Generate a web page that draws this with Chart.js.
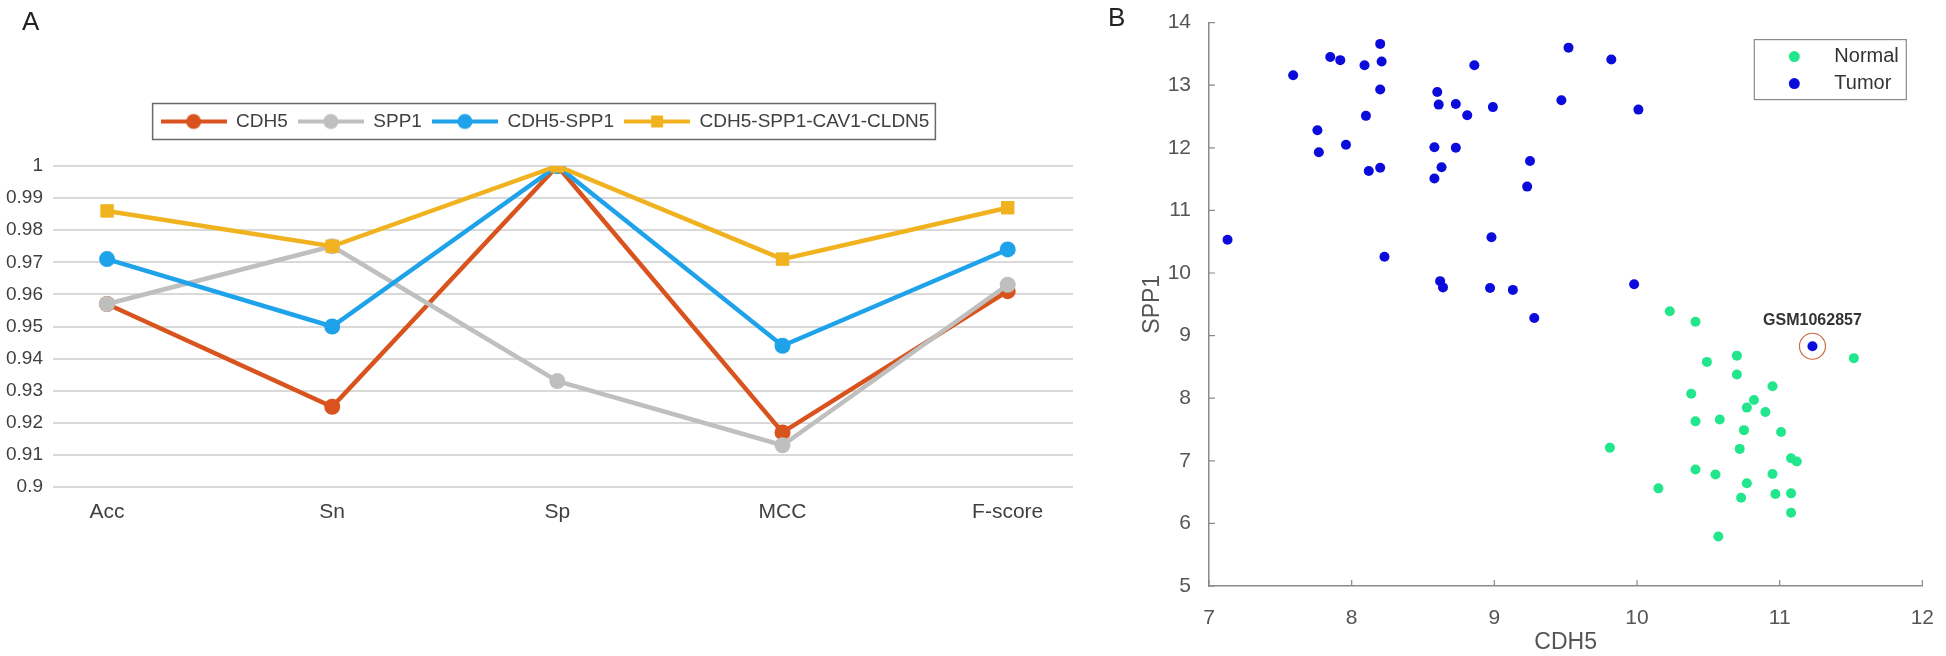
<!DOCTYPE html>
<html>
<head>
<meta charset="utf-8">
<script src="https://cdn.jsdelivr.net/npm/chart.js@4"></script>
<style>
  body { margin: 0; background: #fff; width: 1946px; height: 656px; position: relative; overflow: hidden; font-family: "Liberation Sans", Arial, sans-serif; }
  .panel { position: absolute; top: 0; height: 656px; }
  #left { left: 0; width: 1090px; }
  #right { left: 1090px; width: 856px; }
  .tag { position: absolute; font-size: 26px; color: #222; }
</style>
</head>
<body>
<div class="panel" id="left"><canvas id="lineChart"></canvas></div>
<div class="panel" id="right"><canvas id="scatterChart"></canvas></div>
<div class="tag" style="left:22px;top:6px;">A</div>
<div class="tag" style="left:1108px;top:2px;">B</div>
<script>
// panel A: classifier metrics
const metrics = ["Acc", "Sn", "Sp", "MCC", "F-score"];
const seriesNames = ["CDH5", "SPP1", "CDH5-SPP1", "CDH5-SPP1-CAV1-CLDN5"];
const cdh5Scores = [0.957, 0.925, 1.0, 0.917, 0.961];
const spp1Scores = [0.957, 0.975, 0.933, 0.913, 0.963];
const pairScores = [0.971, 0.950, 1.0, 0.944, 0.974];
const fourGeneScores = [0.986, 0.975, 1.0, 0.971, 0.987];
const yTicks = [0.9, 0.91, 0.92, 0.93, 0.94, 0.95, 0.96, 0.97, 0.98, 0.99, 1];

// panel B: expression of the two genes per sample
const normalCDH5 = [10.23, 10.41, 10.70, 10.49, 10.70, 11.52, 10.95, 10.38, 10.82, 10.77, 10.90, 10.41, 10.58, 10.75, 11.01, 9.81, 10.72, 11.08, 11.12, 10.41, 10.55, 10.95, 10.77, 10.15, 10.97, 11.08, 10.73, 11.08, 10.57];
const normalSPP1 = [9.39, 9.22, 8.68, 8.58, 8.38, 8.64, 8.19, 8.07, 7.97, 7.85, 7.78, 7.63, 7.66, 7.49, 7.46, 7.21, 7.19, 7.04, 6.99, 6.86, 6.78, 6.79, 6.64, 6.56, 6.47, 6.48, 6.41, 6.17, 5.79];
const tumorCDH5 = [7.13, 7.59, 7.85, 7.92, 7.76, 7.77, 7.96, 8.09, 8.10, 8.12, 8.20, 8.21, 8.20, 8.20, 8.23, 8.60, 8.61, 8.58, 8.63, 8.58, 8.73, 8.73, 8.81, 8.86, 8.99, 8.98, 8.62, 8.64, 8.97, 9.13, 9.28, 9.25, 9.23, 9.47, 9.52, 9.82, 10.01, 9.98, 11.23];
const tumorSPP1 = [10.53, 13.16, 13.45, 13.40, 12.28, 11.93, 12.05, 13.32, 12.51, 11.63, 13.66, 13.38, 12.93, 11.68, 10.26, 12.89, 12.69, 12.01, 11.69, 11.51, 12.70, 12.00, 12.52, 13.32, 12.65, 10.57, 9.87, 9.77, 9.76, 9.73, 9.28, 11.79, 11.38, 12.76, 13.60, 13.41, 12.61, 9.82, 8.83];
const outlierName = "GSM1062857";
const outlierCDH5 = [11.23];
const outlierSPP1 = [8.83];

const colors = ["#d9531e", "#bfbfbf", "#1ea2ea", "#f0b21f"];
const shapes = ["circle", "circle", "circle", "rect"];

function legendIcon(color, shape) {
  const c = document.createElement("canvas");
  c.width = 66; c.height = 18;
  const g = c.getContext("2d");
  g.strokeStyle = color; g.lineWidth = 4;
  g.beginPath(); g.moveTo(0, 9); g.lineTo(66, 9); g.stroke();
  g.fillStyle = color;
  if (shape === "rect") { g.fillRect(27, 3, 12, 12); }
  else { g.beginPath(); g.arc(33, 9, 7.5, 0, Math.PI * 2); g.fill(); }
  return c;
}
const icons = colors.map((c, i) => legendIcon(c, shapes[i]));

const legendFrame = {
  id: "legendFrame",
  afterLayout(chart) {
    // center the legend on the whole panel, not only on the padded box
    const lg = chart.legend;
    lg.left = 0; lg.right = chart.width; lg.width = chart.width;
  },
  afterDraw(chart) {
    const boxes = chart.legend.legendHitBoxes;
    if (!boxes || !boxes.length) return;
    const first = boxes[0], last = boxes[boxes.length - 1];
    const cy = first.top + first.height / 2;
    const ctx = chart.ctx;
    ctx.save();
    ctx.strokeStyle = "#6a6a6a"; ctx.lineWidth = 1.5;
    ctx.strokeRect(first.left - 8, cy - 18, last.left + last.width - first.left + 14, 36);
    ctx.restore();
  }
};

const allScores = [cdh5Scores, spp1Scores, pairScores, fourGeneScores];

new Chart(document.getElementById("lineChart"), {
  type: "line",
  data: {
    datasets: allScores.map((vals, i) => ({
      label: seriesNames[i],
      data: vals.map((v, k) => ({ x: k, y: v })),
      borderColor: colors[i],
      backgroundColor: colors[i],
      borderWidth: 4.5,
      pointStyle: shapes[i],
      pointRadius: shapes[i] === "rect" ? 9.5 : 8,
      pointBorderWidth: 0,
      order: 4 - i,
      tension: 0
    }))
  },
  options: {
    responsive: true,
    maintainAspectRatio: false,
    animation: false,
    events: [],
    layout: { padding: { top: 102, left: 0, right: 17, bottom: 0 } },
    plugins: {
      tooltip: { enabled: false },
      legend: {
        position: "top",
        align: "center",
        labels: {
          usePointStyle: true,
          pointStyleWidth: 66,
          padding: 10,
          color: "#404040",
          font: { family: "Liberation Sans, Arial", size: 19 },
          generateLabels: () => seriesNames.map((n, i) => ({
            text: n, pointStyle: icons[i], fillStyle: colors[i], strokeStyle: colors[i],
            lineWidth: 0, hidden: false, datasetIndex: i, fontColor: "#404040"
          }))
        }
      }
    },
    scales: {
      x: {
        type: "linear",
        min: -0.24,
        max: 4.29,
        afterBuildTicks: (axis) => { axis.ticks = metrics.map((_, i) => ({ value: i })); },
        afterFit: (axis) => { axis.height = 169; },
        grid: { display: false },
        border: { display: false },
        ticks: {
          callback: (v) => metrics[v],
          color: "#404040",
          padding: 5,
          maxRotation: 0,
          font: { family: "Liberation Sans, Arial", size: 21 }
        }
      },
      y: {
        min: 0.9,
        max: 1,
        afterBuildTicks: (axis) => { axis.ticks = yTicks.map(v => ({ value: v })); },
        afterFit: (axis) => { axis.width = 53; },
        grid: { color: "#d9d9d9", lineWidth: 2, drawTicks: false },
        border: { display: false },
        ticks: {
          callback: (v) => String(+v.toFixed(2)),
          color: "#404040",
          padding: 10,
          font: { family: "Liberation Sans, Arial", size: 19 }
        }
      }
    }
  },
  plugins: [legendFrame, {
    id: "legendHeight",
    afterInit(chart) {
      const lg = chart.legend;
      const orig = lg.fit.bind(lg);
      lg.fit = function () { orig(); this.height = 64; };
      chart.update();
    }
  }]
});

// panel B helpers
const inwardTicks = {
  id: "inwardTicks",
  afterDraw(chart) {
    const { ctx, chartArea: a, scales: { x, y } } = chart;
    ctx.save();
    ctx.strokeStyle = "#8a8a8a"; ctx.lineWidth = 1.2;
    ctx.beginPath();
    x.ticks.forEach(t => { const px = x.getPixelForValue(t.value); ctx.moveTo(px, a.bottom); ctx.lineTo(px, a.bottom - 6); });
    y.ticks.forEach(t => { const py = y.getPixelForValue(t.value); ctx.moveTo(a.left, py); ctx.lineTo(a.left + 6, py); });
    ctx.stroke();
    ctx.restore();
  }
};

const scatterExtras = {
  id: "scatterExtras",
  afterDatasetsDraw(chart) {
    const { ctx, chartArea: a, scales: { x, y } } = chart;
    ctx.save();
    // outlier label
    ctx.font = "bold 16px 'Liberation Sans', Arial";
    ctx.fillStyle = "#333";
    ctx.textAlign = "center";
    ctx.textBaseline = "middle";
    ctx.fillText(outlierName, x.getPixelForValue(outlierCDH5[0]), y.getPixelForValue(outlierSPP1[0]) - 26);
    // legend box
    const bl = a.right - 168, bt = a.top + 17;
    ctx.fillStyle = "#fff";
    ctx.fillRect(bl, bt, 152, 60);
    ctx.strokeStyle = "#8a8a8a"; ctx.lineWidth = 1.2;
    ctx.strokeRect(bl, bt, 152, 60);
    const entries = [["Normal", "#22e68b"], ["Tumor", "#0b0bdc"]];
    entries.forEach(([name, col], i) => {
      const cy = bt + 17 + i * 27;
      ctx.fillStyle = col;
      ctx.beginPath(); ctx.arc(bl + 40, cy, 5.5, 0, Math.PI * 2); ctx.fill();
      ctx.fillStyle = "#333";
      ctx.textAlign = "left";
      ctx.font = "20px 'Liberation Sans', Arial";
      ctx.fillText(name, bl + 80, cy);
    });
    ctx.restore();
  }
};

new Chart(document.getElementById("scatterChart"), {
  type: "scatter",
  data: {
    datasets: [
      {
        label: "Normal",
        data: normalCDH5.map((v, i) => ({ x: v, y: normalSPP1[i] })),
        backgroundColor: "#22e68b",
        pointRadius: 5,
        pointBorderWidth: 0
      },
      {
        label: "Tumor",
        data: tumorCDH5.map((v, i) => ({ x: v, y: tumorSPP1[i] })),
        backgroundColor: "#0b0bdc",
        pointRadius: 5,
        pointBorderWidth: 0
      },
      {
        label: outlierName,
        data: outlierCDH5.map((v, i) => ({ x: v, y: outlierSPP1[i] })),
        backgroundColor: "rgba(0,0,0,0)",
        borderColor: "#c86a40",
        pointRadius: 13,
        pointBorderWidth: 1.2
      }
    ]
  },
  options: {
    responsive: true,
    maintainAspectRatio: false,
    animation: false,
    events: [],
    layout: { padding: { top: 11, right: 2, left: 0, bottom: 0 } },
    plugins: { legend: { display: false }, tooltip: { enabled: false } },
    scales: {
      x: {
        min: 7, max: 12,
        afterFit: (axis) => { axis.height = 70; },
        grid: { display: false },
        border: { color: "#8a8a8a", width: 1.5 },
        ticks: { stepSize: 1, color: "#555", padding: 12, font: { family: "Liberation Sans, Arial", size: 21 } },
        title: { display: true, text: "CDH5", color: "#555", padding: { top: 0, bottom: 0 }, font: { family: "Liberation Sans, Arial", size: 23 } }
      },
      y: {
        min: 5, max: 14,
        afterFit: (axis) => { axis.width = 119; },
        grid: { display: false },
        border: { color: "#8a8a8a", width: 1.5 },
        ticks: { stepSize: 1, color: "#555", padding: 10, font: { family: "Liberation Sans, Arial", size: 21 } },
        title: { display: true, text: "SPP1", color: "#555", padding: { top: 49, bottom: 0 }, font: { family: "Liberation Sans, Arial", size: 23 } }
      }
    }
  },
  plugins: [inwardTicks, scatterExtras]
});
</script>
</body>
</html>
